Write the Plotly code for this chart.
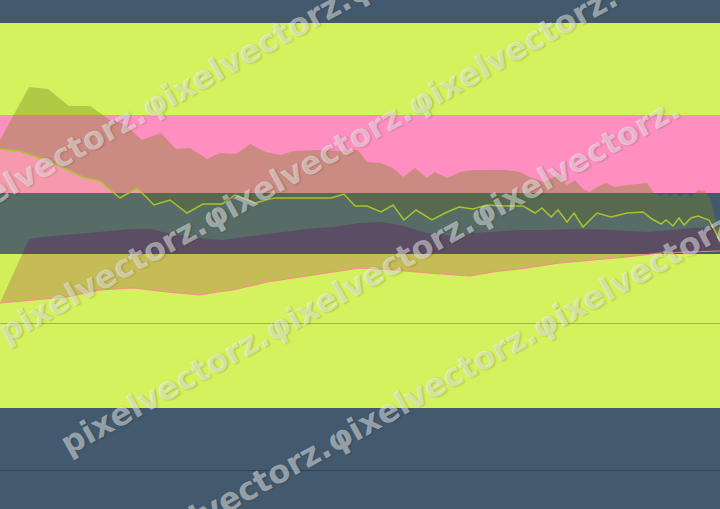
import math
import plotly.graph_objects as go

# ---- data (y axis runs 0..509) ----
band_edges = [0, 101, 255, 316, 394, 486, 509]
band_colors = ["#435a6e", "#d4f25e", "#435a6e", "#ff8fc1", "#d4f25e", "#435a6e"]

x_top = [0, 29, 48, 69, 90, 100, 110, 124, 142, 161, 176, 190, 207, 220, 236, 250, 266, 280, 294, 321,
         340, 358, 367, 380, 393, 403, 415, 427, 435, 447, 460, 473, 493, 507, 520, 530, 543, 558, 567,
         575, 583, 590, 597, 606, 615, 627, 647, 654, 661, 666, 670, 675, 680, 686, 691, 698, 705, 711,
         716, 720]
v_top = [369, 422, 420, 403, 403, 396, 389, 385, 369, 376, 360, 361, 350, 356, 355, 365, 357, 354, 358, 359,
         358, 359, 347, 346, 341, 332, 341, 331, 337, 331, 337, 339, 339, 339, 337, 332, 327, 334, 324,
         329, 320, 317, 322, 326, 322, 324, 326, 316, 313, 316, 312, 316, 312, 316, 312, 319, 318, 309,
         287, 273]

x_line = [0, 20, 40, 62, 83, 100, 120, 137, 154, 170, 187, 203, 222, 235, 255, 274, 300, 331, 344, 355,
          367, 381, 393, 404, 416, 432, 445, 459, 473, 487, 505, 523, 535, 542, 551, 558, 567, 574, 583,
          597, 611, 627, 643, 652, 661, 666, 673, 679, 684, 691, 698, 709, 716, 720]
v_line = [360, 358, 351, 342, 332, 328, 311, 321, 304, 309, 296, 305, 305, 314, 306, 311, 311, 311, 315, 303,
          303, 297, 304, 289, 299, 289, 296, 302, 300, 304, 303, 303, 296, 301, 292, 299, 287, 296, 282,
          296, 292, 296, 297, 290, 285, 289, 283, 291, 284, 291, 293, 289, 276, 267]

x_mid = [0, 29, 43, 67, 83, 100, 133, 150, 167, 187, 207, 223, 240, 260, 283, 307, 333, 360, 380, 400,
         427, 460, 473, 493, 520, 547, 580, 613, 647, 673, 693, 720]
v_mid = [206, 270, 272, 274, 276, 277, 280, 280, 276, 273, 270, 269, 271, 274, 277, 280, 282, 286, 287, 284,
         276, 272, 276, 277, 279, 279, 280, 279, 277, 279, 281, 282]

x_base = [0, 30, 67, 100, 133, 167, 200, 217, 233, 267, 300, 333, 360, 393, 427, 470, 493, 527, 560, 593,
          627, 660, 693, 720]
v_base = [206, 209, 212, 219, 221, 217, 214, 217, 219, 227, 232, 237, 241, 239, 236, 233, 237, 241, 246, 249,
          252, 256, 257, 258]

grid_vals = [39, 186]
watermark_rows = ["pixelvectorz.φixelvectorz.φixelvectorz."] * 4

W, H = 720, 509

fig = go.Figure()

# stacked bands
fig.add_trace(go.Scatter(x=x_base, y=v_base, mode="lines",
                         line=dict(color="rgba(255,130,150,0.9)", width=1.2),
                         hoverinfo="skip", showlegend=False))
fig.add_trace(go.Scatter(x=x_mid, y=v_mid, mode="lines", fill="tonexty",
                         fillcolor="rgba(160,45,70,0.27)", line=dict(width=0),
                         hoverinfo="skip", showlegend=False))
fig.add_trace(go.Scatter(x=x_line, y=v_line, mode="lines", fill="tonexty",
                         fillcolor="rgba(200,215,60,0.15)", line=dict(width=0),
                         hoverinfo="skip", showlegend=False))
fig.add_trace(go.Scatter(x=x_top, y=v_top, mode="lines", fill="tonexty",
                         fillcolor="rgba(120,135,30,0.38)", line=dict(width=0),
                         hoverinfo="skip", showlegend=False))
fig.add_trace(go.Scatter(x=x_line, y=v_line, mode="lines",
                         line=dict(color="#a9c22e", width=1.5),
                         hoverinfo="skip", showlegend=False))

# background bands
shapes = []
for i, c in enumerate(band_colors):
    shapes.append(dict(type="rect", xref="paper", yref="y", x0=0, x1=1,
                       y0=band_edges[i], y1=band_edges[i + 1],
                       fillcolor=c, line=dict(width=0), layer="below"))

# watermark rows (rotated text)
ang = 29.0
dx, dy = math.cos(math.radians(ang)), math.sin(math.radians(ang))
px_, py_ = math.sin(math.radians(ang)), math.cos(math.radians(ang))
start = (-61.0, 224.0)
step = 127.0
half_len = 352.0
annotations = []
for k, txt in enumerate(watermark_rows):
    sx = start[0] + px_ * step * k
    sy = start[1] + py_ * step * k
    cx = sx + dx * half_len
    cy = sy - dy * half_len
    annotations.append(dict(text=txt, xref="paper", yref="paper",
                            x=cx / W, y=1 - cy / H, xanchor="center", yanchor="middle",
                            showarrow=False, textangle=-ang,
                            font=dict(family="DejaVu Sans", size=32, weight="bold",
                                      color="rgba(255,255,255,0.47)",
                                      shadow="1px 1px 2px rgba(0,0,0,0.4)")))

fig.update_layout(
    width=W, height=H, margin=dict(l=0, r=0, t=0, b=0),
    paper_bgcolor="#435a6e", plot_bgcolor="#435a6e",
    shapes=shapes, annotations=annotations, showlegend=False,
    xaxis=dict(range=[0, 720], showgrid=False, zeroline=False, showticklabels=False,
               ticks="", showline=False),
    yaxis=dict(range=[0, 509], tickvals=grid_vals, showgrid=True,
               gridcolor="rgba(0,0,0,0.25)", gridwidth=1, zeroline=False,
               showticklabels=False, ticks="", showline=False),
)

fig.write_html("out.html", config={"displayModeBar": False},
               post_script="document.body.style.margin='0';document.body.style.overflow='hidden';")
